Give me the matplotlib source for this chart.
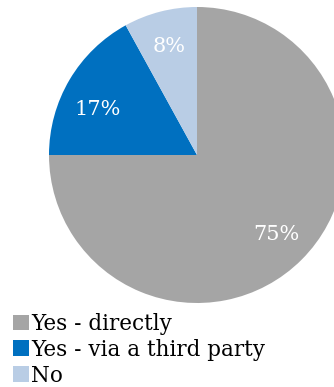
import matplotlib
matplotlib.use("Agg")
import matplotlib.pyplot as plt
import numpy as np

categories = ["Yes - directly", "Yes - via a third party", "No"]
shares = [75, 17, 8]
colors = ["#A5A5A5", "#0070C0", "#B9CDE5"]

W, H = 334, 387
fig = plt.figure(figsize=(W / 100, H / 100), dpi=100)

# pie centre and radius in pixels
cx, cy, r = 197, 155, 148
ax = fig.add_axes([(cx - r) / W, (H - cy - r) / H, 2 * r / W, 2 * r / H])
wedges, texts, autotexts = ax.pie(
    shares, colors=colors, startangle=90, counterclock=False,
    autopct="%d%%", pctdistance=0.76,
    wedgeprops=dict(linewidth=0),
    textprops=dict(color="white", fontsize=15, family="DejaVu Serif"),
)
# lift the small blue-slice label a little toward the left edge
w = wedges[1]
ang = np.deg2rad((w.theta1 + w.theta2) / 2 + 6)
autotexts[1].set_position((0.74 * np.cos(ang), 0.74 * np.sin(ang)))

ax.set_xlim(-1, 1)
ax.set_ylim(-1, 1)
ax.set_aspect("auto")
ax.axis("off")

leg = fig.legend(
    wedges, categories, loc="upper left",
    bbox_to_anchor=(13 / W, 1 - 313 / H),
    frameon=False, handlelength=0.75, handleheight=0.75, handletextpad=0.1,
    labelspacing=0.18, borderaxespad=0, borderpad=0,
    prop=dict(family="DejaVu Serif", size=15.5),
)

fig.savefig("out.png", dpi=100)
